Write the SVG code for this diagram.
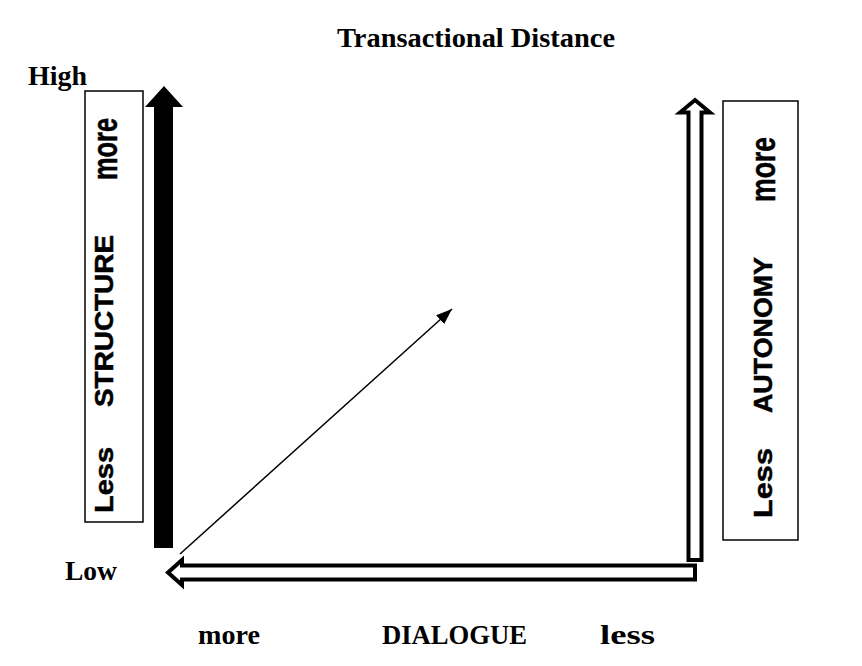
<svg xmlns="http://www.w3.org/2000/svg" width="862" height="666" viewBox="0 0 862 666">
<defs>
<style>
.serif{font-family:"Liberation Serif","Times New Roman",serif;font-weight:bold;font-size:28px;fill:#000}
.sans{font-family:"Liberation Sans",Arial,sans-serif;font-weight:bold;fill:#000;stroke:#000;stroke-width:0.5}
.box{fill:#fff;stroke:#000;stroke-width:1.5}
.hollow{fill:#fff;stroke:#000;stroke-width:4;stroke-linejoin:miter;stroke-miterlimit:10}
</style>
<marker id="ah" markerUnits="userSpaceOnUse" markerWidth="18" markerHeight="12" refX="16" refY="6" orient="auto">
<path d="M0,0 L16,6 L0,12 Z" fill="#000"/>
</marker>
</defs>
<rect width="862" height="666" fill="#fff"/>
<g id="title"><text class="serif" x="337" y="47" textLength="278" lengthAdjust="spacingAndGlyphs">Transactional Distance</text></g>
<g id="high"><text class="serif" x="28" y="85" textLength="59" lengthAdjust="spacingAndGlyphs">High</text></g>
<g id="low"><text class="serif" x="65" y="580" textLength="52" lengthAdjust="spacingAndGlyphs">Low</text></g>
<g id="dialogue-labels">
<text class="serif" x="198" y="644" textLength="62" lengthAdjust="spacingAndGlyphs">more</text>
<text class="serif" x="382" y="644" textLength="145" lengthAdjust="spacingAndGlyphs">DIALOGUE</text>
<text class="serif" x="600" y="644" textLength="55" lengthAdjust="spacingAndGlyphs">less</text>
</g>
<g id="structure-box">
<rect class="box" x="85" y="91" width="58" height="431"/>
<text class="sans" font-size="25" transform="translate(113,513) rotate(-90)" textLength="66" lengthAdjust="spacingAndGlyphs">Less</text>
<text class="sans" font-size="25" transform="translate(113,407) rotate(-90)" textLength="172" lengthAdjust="spacingAndGlyphs">STRUCTURE</text>
<text class="sans" font-size="35" transform="translate(117,180) rotate(-90)" textLength="62" lengthAdjust="spacingAndGlyphs">more</text>
</g>
<g id="autonomy-box">
<rect class="box" x="723" y="101" width="75" height="439"/>
<text class="sans" font-size="26" transform="translate(772,518) rotate(-90)" textLength="70" lengthAdjust="spacingAndGlyphs">Less</text>
<text class="sans" font-size="26" transform="translate(772,413) rotate(-90)" textLength="156" lengthAdjust="spacingAndGlyphs">AUTONOMY</text>
<text class="sans" font-size="35" transform="translate(775,202) rotate(-90)" textLength="65" lengthAdjust="spacingAndGlyphs">more</text>
</g>
<g id="connectors">
<path id="structure-arrow" d="M154,548 L154,107 L145,107 L164,86 L183,107 L173,107 L173,548 Z" fill="#000"/>
<path id="autonomy-arrow" class="hollow" d="M688.5,560 L688.5,112.5 L680,112.5 L695,100 L710,112.5 L701.5,112.5 L701.5,560 Z"/>
<path id="dialogue-arrow" class="hollow" d="M695,565.5 L182,565.5 L182,560 L168,572.5 L182,585 L182,579.5 L695,579.5 Z"/>
<line id="distance-arrow" x1="180" y1="554" x2="452" y2="309" stroke="#000" stroke-width="1.5" marker-end="url(#ah)"/>
</g>
</svg>
